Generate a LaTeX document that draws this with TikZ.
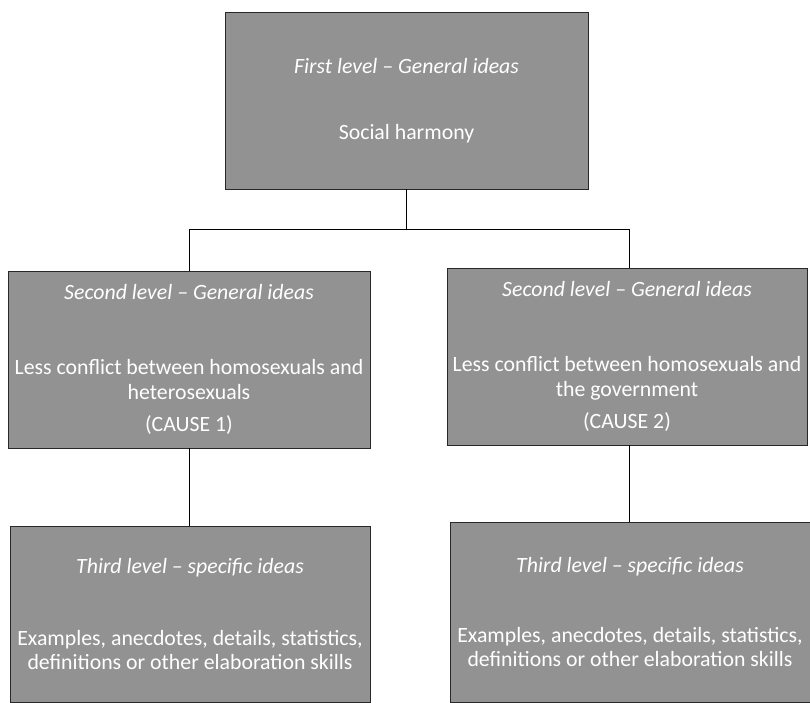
\documentclass[tikz,border=0pt]{standalone}
\usepackage{fontspec}
\setmainfont{Carlito}
\usepackage{tikz}
\usetikzlibrary{positioning}
\usepackage{xcolor}
\definecolor{dfgray}{RGB}{146,146,146}
\definecolor{dfdark}{RGB}{40,40,40}
\tikzstyle{ideabox} = [rectangle, inner sep=0pt, text centered, align=center, draw=dfdark, fill=dfgray, line width=0.9pt, text=white, font=\fontsize{21.8}{24.5}\selectfont]
\tikzstyle{link} = [line width=1pt, color=black]

\begin{document}
\begin{tikzpicture}[x=1pt,y=-1pt]
\useasboundingbox (0,0) rectangle (810,702);
% First level
\node[ideabox, minimum width=363pt, minimum height=177pt] (top) at (406.5,100.5) {\textit{First level -- General ideas}\\[42pt]Social harmony};

% Second level
\node[ideabox, minimum width=362pt, minimum height=177pt] (cause1) at (189,359.5) {\textit{Second level -- General ideas}\\[51pt]Less conflict between homosexuals and\\heterosexuals\\[8pt](CAUSE 1)};
\node[ideabox, minimum width=360pt, minimum height=177pt] (cause2) at (627,356.5) {\textit{Second level -- General ideas}\\[51pt]Less conflict between homosexuals and\\the government\\[8pt](CAUSE 2)};

% Third level
\node[ideabox, minimum width=360pt, minimum height=176pt] (detail1) at (190,614) {\textit{Third level -- specific ideas}\\[47pt]Examples, anecdotes, details, statistics,\\definitions or other elaboration skills};
\node[ideabox, minimum width=360pt, minimum height=180pt] (detail2) at (630,612) {\textit{Third level -- specific ideas}\\[45pt]Examples, anecdotes, details, statistics,\\definitions or other elaboration skills};

% Connections
\draw[link] (top.south) -- ++(0,40) -| (cause1.north);
\draw[link] (top.south) -- ++(0,40) -| ([xshift=2pt]cause2.north);
\draw[link] (cause1.south) -- (cause1.south |- detail1.north);
\draw[link] ([xshift=2pt]cause2.south) -- ([xshift=2pt]cause2.south |- detail2.north);
\end{tikzpicture}
\end{document}
